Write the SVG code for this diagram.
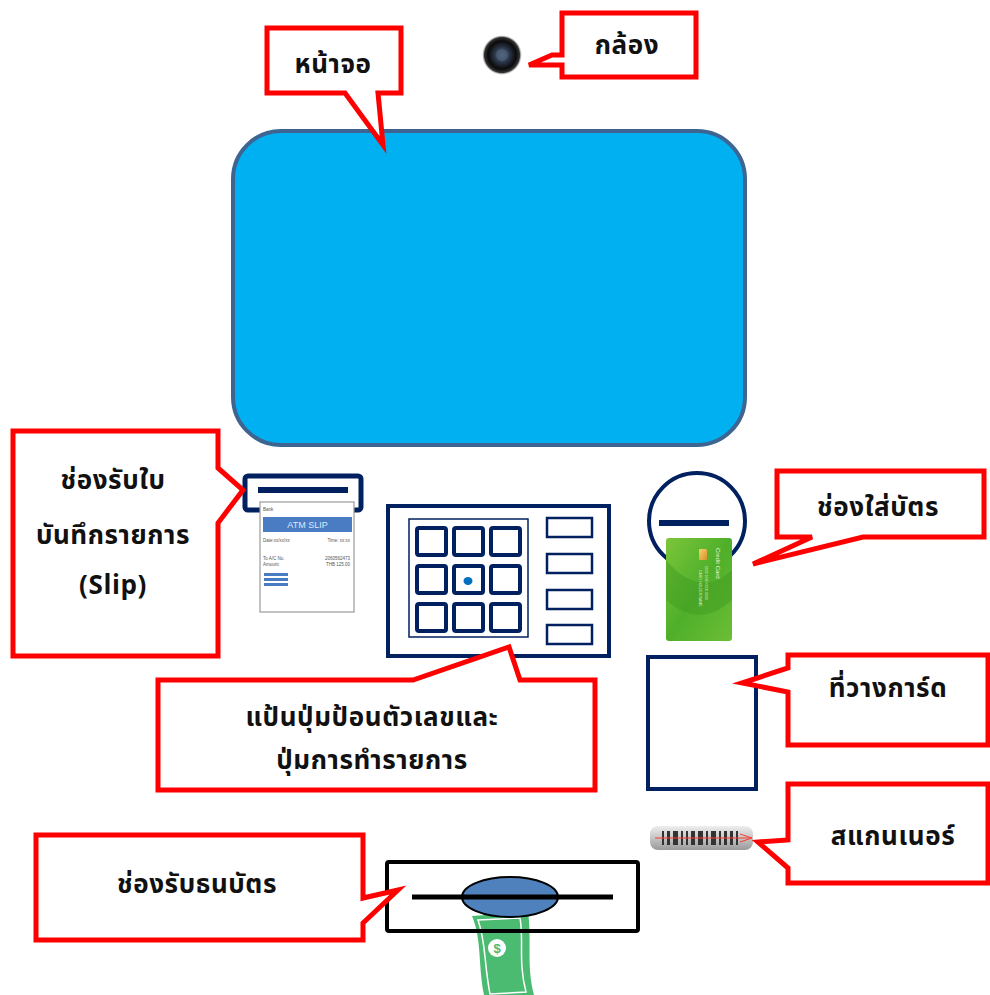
<svg xmlns="http://www.w3.org/2000/svg" width="990" height="995" viewBox="0 0 990 995">
  <style>
    .callout { fill: #FFFFFF; stroke: #FF0000; stroke-width: 5; stroke-linejoin: miter; }
    .label { font-family: Tahoma, "Noto Sans Thai", "DejaVu Sans", sans-serif; font-weight: bold; font-size: 26px; letter-spacing: 0.6px; fill: #111111; text-anchor: middle; }
    .navy { fill: #FFFFFF; stroke: #002060; }
    .tiny { font-family: "Liberation Sans", Arial, sans-serif; font-size: 4.5px; fill: #555555; }
  </style>
  <defs>
    <radialGradient id="lens" cx="0.5" cy="0.5" r="0.5">
      <stop offset="0" stop-color="#6E7F99"/>
      <stop offset="0.35" stop-color="#2E3A4E"/>
      <stop offset="0.7" stop-color="#0A0A0A"/>
      <stop offset="0.88" stop-color="#333333"/>
      <stop offset="1" stop-color="#BBBBBB" stop-opacity="0"/>
    </radialGradient>
    <linearGradient id="cardGreen" x1="0" y1="0" x2="1" y2="1">
      <stop offset="0" stop-color="#7CC63A"/>
      <stop offset="0.5" stop-color="#4FAF2A"/>
      <stop offset="1" stop-color="#6CBE35"/>
    </linearGradient>
    <linearGradient id="chip" x1="0" y1="0" x2="1" y2="1">
      <stop offset="0" stop-color="#F7D36B"/>
      <stop offset="1" stop-color="#D9902B"/>
    </linearGradient>
    <linearGradient id="scan" x1="0" y1="0" x2="0" y2="1">
      <stop offset="0" stop-color="#EEEEEE"/>
      <stop offset="0.5" stop-color="#C4C4C4"/>
      <stop offset="1" stop-color="#9A9A9A"/>
    </linearGradient>
  </defs>

  <!-- screen -->
  <g id="screen">
    <rect x="233" y="131" width="512" height="314" rx="48" fill="#00B0F0" stroke="#3E6491" stroke-width="4"/>
  </g>

  <!-- camera -->
  <g id="camera">
    <circle cx="502" cy="55" r="20" fill="url(#lens)"/>
    <circle cx="502" cy="55" r="6" fill="#4A5C78" opacity="0.7"/>
  </g>

  <!-- receipt slot with slip -->
  <g id="slip-slot">
    <rect x="245" y="476" width="116" height="34" rx="3" class="navy" stroke-width="5"/>
    <rect x="258" y="487" width="90" height="6" fill="#002060"/>
    <rect x="260" y="502" width="94" height="110" fill="#FFFFFF" stroke="#9A9A9A" stroke-width="1.2"/>
    <text x="263" y="511" class="tiny">Bank</text>
    <rect x="263" y="517" width="89" height="15" fill="#4A7CC4"/>
    <text x="307.5" y="528" font-family="'Liberation Sans', Arial, sans-serif" font-size="9" fill="#DDE8F8" text-anchor="middle">ATM SLIP</text>
    <text x="263" y="542" class="tiny">Date:xx/xx/xx</text>
    <text x="350" y="542" class="tiny" text-anchor="end">Time: xx:xx</text>
    <text x="263" y="560" class="tiny">To A/C No.</text>
    <text x="350" y="560" class="tiny" text-anchor="end">2060562473</text>
    <text x="263" y="566" class="tiny">Amount:</text>
    <text x="350" y="566" class="tiny" text-anchor="end">THB 125.00</text>
    <rect x="264" y="573" width="24" height="3" fill="#4A7CC4"/>
    <rect x="264" y="578" width="24" height="3" fill="#4A7CC4"/>
    <rect x="264" y="583" width="24" height="3" fill="#4A7CC4"/>
  </g>

  <!-- keypad -->
  <g id="keypad">
    <rect x="388" y="506" width="221" height="150" class="navy" stroke-width="4"/>
    <rect x="409" y="519" width="119" height="118" fill="none" stroke="#002060" stroke-width="1.5"/>
    <g fill="#FFFFFF" stroke="#002060" stroke-width="4">
      <rect x="417" y="528" width="29" height="27" rx="2"/>
      <rect x="454" y="528" width="29" height="27" rx="2"/>
      <rect x="491" y="528" width="29" height="27" rx="2"/>
      <rect x="417" y="566" width="29" height="27" rx="2"/>
      <rect x="454" y="566" width="29" height="27" rx="2"/>
      <rect x="491" y="566" width="29" height="27" rx="2"/>
      <rect x="417" y="604" width="29" height="27" rx="2"/>
      <rect x="454" y="604" width="29" height="27" rx="2"/>
      <rect x="491" y="604" width="29" height="27" rx="2"/>
    </g>
    <ellipse cx="468" cy="581" rx="4.5" ry="4" fill="#0070C0"/>
    <g fill="#FFFFFF" stroke="#002060" stroke-width="2.5">
      <rect x="547" y="518" width="45" height="19"/>
      <rect x="547" y="554" width="45" height="19"/>
      <rect x="547" y="590" width="45" height="19"/>
      <rect x="547" y="625" width="45" height="19"/>
    </g>
  </g>

  <!-- card slot and card -->
  <g id="card-slot">
    <circle cx="697" cy="521" r="48" class="navy" stroke-width="4"/>
    <rect x="659" y="520" width="70" height="6" fill="#002060"/>
    <rect x="666" y="538" width="66" height="103" rx="3" fill="url(#cardGreen)"/>
    <path d="M666,560 Q700,600 732,570 L732,600 Q700,630 666,600 Z" fill="#3E9A22" opacity="0.45"/>
    <rect x="699" y="549" width="8" height="11" rx="1" fill="url(#chip)"/>
    <text x="716" y="548" font-family="'Liberation Sans', Arial, sans-serif" font-size="6" fill="#E8F5D8" transform="rotate(90 716 548)">Credit Card</text>
    <text x="705" y="566" font-family="'Liberation Sans', Arial, sans-serif" font-size="3.5" fill="#E0F0D0" transform="rotate(90 705 566)">0000 0000 0000 0000</text>
    <text x="699" y="570" font-family="'Liberation Sans', Arial, sans-serif" font-size="3.5" fill="#E0F0D0" transform="rotate(90 699 570)">CARD HOLDER NAME</text>
  </g>

  <!-- card tray -->
  <g id="card-tray">
    <rect x="648" y="657" width="108" height="132" class="navy" stroke-width="4"/>
  </g>

  <!-- barcode scanner -->
  <g id="scanner">
    <rect x="650" y="826" width="103" height="24" rx="8" fill="url(#scan)"/>
    <g fill="#333333">
      <rect x="662" y="831" width="2" height="14"/>
      <rect x="667" y="831" width="3" height="14"/>
      <rect x="673" y="831" width="5" height="14"/>
      <rect x="681" y="831" width="2" height="14"/>
      <rect x="686" y="831" width="2" height="14"/>
      <rect x="691" y="831" width="4" height="14"/>
      <rect x="698" y="831" width="5" height="14"/>
      <rect x="706" y="831" width="2" height="14"/>
      <rect x="711" y="831" width="5" height="14"/>
      <rect x="719" y="831" width="2" height="14"/>
      <rect x="724" y="831" width="3" height="14"/>
      <rect x="730" y="831" width="3" height="14"/>
      <rect x="736" y="831" width="2" height="14"/>
    </g>
    <line x1="655" y1="838" x2="752" y2="838" stroke="#FF3B30" stroke-width="1.2"/>
    <path d="M740,834 L752,838 L740,842" fill="none" stroke="#FF3B30" stroke-width="1"/>
  </g>

  <!-- cash slot with banknote -->
  <g id="cash-slot">
    <path d="M472,916 L528,912 C532,940 526,965 534,995 L484,995 C478,965 482,940 472,916 Z" fill="#4CBB72"/>
    <path d="M478,920 L520,918 C524,940 518,962 526,992 L490,994 C484,964 486,942 478,920 Z" fill="none" stroke="#FFFFFF" stroke-width="1.5"/>
    <circle cx="497" cy="948" r="9" fill="#FFFFFF"/>
    <text x="497" y="953" font-family="'Liberation Sans', Arial, sans-serif" font-weight="bold" font-size="13" fill="#4CBB72" text-anchor="middle">$</text>
    <rect x="387" y="862" width="251" height="69" rx="2" fill="none" stroke="#000000" stroke-width="4"/>
    <ellipse cx="510" cy="897" rx="48" ry="20" fill="#4F81BD" stroke="#000000" stroke-width="2"/>
    <line x1="412" y1="897" x2="613" y2="897" stroke="#000000" stroke-width="5"/>
  </g>

  <!-- callouts -->
  <g id="connectors">
    <g id="callout-screen">
      <path class="callout" d="M267,28 H401 V93 H378 L383,145 L345,93 H267 Z"/>
      <text x="333" y="73" class="label">หน้าจอ</text>
    </g>
    <g id="callout-camera">
      <path class="callout" d="M562,13 H696 V77 H562 V65 H529 L552,55 H562 Z"/>
      <text x="627" y="54" class="label">กล้อง</text>
    </g>
    <g id="callout-slip">
      <path class="callout" d="M13,431 H218 V468 L243,490 L218,523 V656 H13 Z"/>
      <text x="113" y="489" class="label">ช่องรับใบ</text>
      <text x="113" y="544" class="label">บันทึกรายการ</text>
      <text x="113" y="594" class="label">(Slip)</text>
    </g>
    <g id="callout-keypad">
      <path class="callout" d="M158,680 H413 L509,647 L520,680 H595 V790 H158 Z"/>
      <text x="372" y="726" class="label">แป้นปุ่มป้อนตัวเลขและ</text>
      <text x="372" y="769" class="label">ปุ่มการทำรายการ</text>
    </g>
    <g id="callout-card">
      <path class="callout" d="M777,471 H984 V537 H863 L753,564 L812,537 H777 Z"/>
      <text x="878" y="516" class="label">ช่องใส่บัตร</text>
    </g>
    <g id="callout-tray">
      <path class="callout" d="M788,655 H988 V745 H788 V692 L742,683 L788,668 Z"/>
      <text x="888" y="697" class="label">ที่วางการ์ด</text>
    </g>
    <g id="callout-scanner">
      <path class="callout" d="M788,784 H988 V883 H788 V868 L758,842 L788,840 Z"/>
      <text x="893" y="845" class="label" font-size="32">สแกนเนอร์</text>
    </g>
    <g id="callout-cash">
      <path class="callout" d="M36,835 H363 V898 L398,890 L363,923 V940 H36 Z"/>
      <text x="197" y="893" class="label">ช่องรับธนบัตร</text>
    </g>
  </g>
</svg>
